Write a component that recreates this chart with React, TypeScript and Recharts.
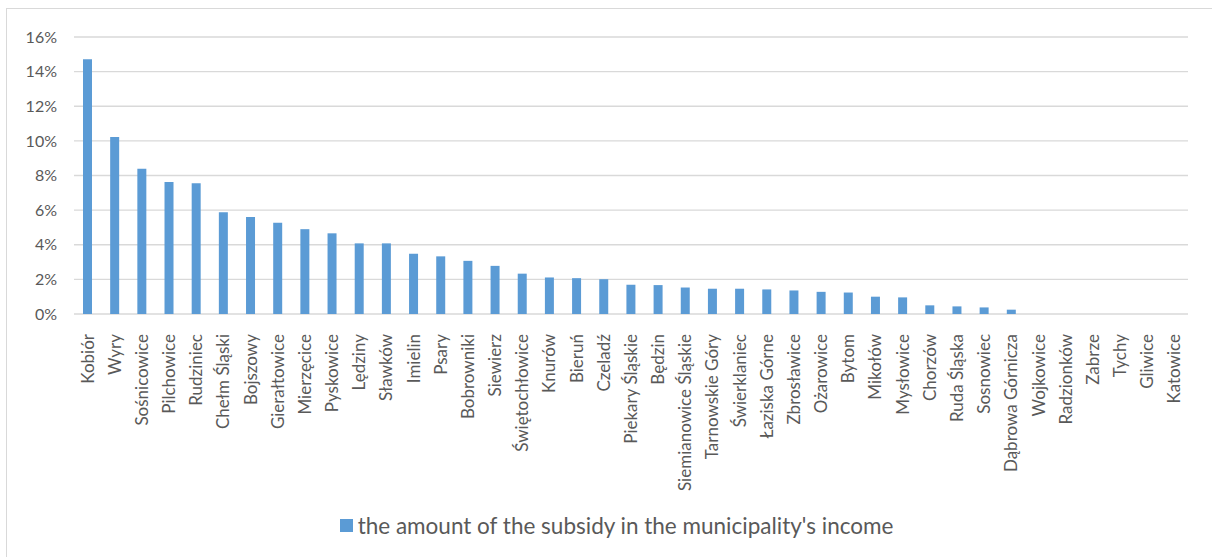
import { BarChart, Bar, XAxis, YAxis, CartesianGrid, Legend } from 'recharts';

// municipalities, sorted by share of the subsidy in their income
const municipalities = [
  'Kobiór', 'Wyry', 'Sośnicowice', 'Pilchowice', 'Rudziniec', 'Chełm Śląski', 'Bojszowy',
  'Gierałtowice', 'Mierzęcice', 'Pyskowice', 'Lędziny', 'Sławków', 'Imielin', 'Psary',
  'Bobrowniki', 'Siewierz', 'Świętochłowice', 'Knurów', 'Bieruń', 'Czeladź', 'Piekary Śląskie',
  'Będzin', 'Siemianowice Śląskie', 'Tarnowskie Góry', 'Świerklaniec', 'Łaziska Górne',
  'Zbrosławice', 'Ożarowice', 'Bytom', 'Mikołów', 'Mysłowice', 'Chorzów', 'Ruda Śląska',
  'Sosnowiec', 'Dąbrowa Górnicza', 'Wojkowice', 'Radzionków', 'Zabrze', 'Tychy', 'Gliwice',
  'Katowice',
];

// percent
const subsidyShare = [
  14.72, 10.23, 8.39, 7.62, 7.55, 5.88, 5.6,
  5.27, 4.9, 4.66, 4.08, 4.08, 3.48, 3.33,
  3.07, 2.78, 2.33, 2.11, 2.07, 2.01, 1.69,
  1.67, 1.53, 1.46, 1.46, 1.42,
  1.36, 1.28, 1.24, 1.0, 0.96, 0.5, 0.44,
  0.38, 0.25, 0, 0, 0, 0, 0,
  0,
];

const yTicks = [0, 2, 4, 6, 8, 10, 12, 14, 16];

const SERIES_NAME = "the amount of the subsidy in the municipality's income";
const BLUE = '#5b9bd5';
const TEXT = '#595959';
const FONT = 'Lato, "Open Sans", sans-serif';

const data = municipalities.map((name, i) => ({ name, value: subsidyShare[i] }));

function CategoryTick({ x, y, payload }: any) {
  return (
    <text
      transform={`translate(${x},${y + 12}) rotate(-90)`}
      textAnchor="end"
      dy="0.35em"
      fontSize={17}
      fontFamily={FONT}
      fill={TEXT}
    >
      {payload.value}
    </text>
  );
}

function LegendBox() {
  return (
    <div style={{ display: 'flex', alignItems: 'center', justifyContent: 'center', height: 30, paddingLeft: 45, fontFamily: FONT, fontSize: 22.5, color: TEXT }}>
      <span style={{ display: 'inline-block', width: 13, height: 13, background: BLUE, marginRight: 5 }} />
      {SERIES_NAME}
    </div>
  );
}

export default function App() {
  return (
    <div style={{ position: 'fixed', left: 0, top: 0, width: 1212, height: 557, background: '#fff', overflow: 'hidden' }}>
      <div style={{ position: 'absolute', left: 6, top: 8, width: 1230, height: 580, borderLeft: '1px solid #d9d9d9', borderTop: '1px solid #d9d9d9' }} />
      <div style={{ position: 'absolute', left: 0, top: 0 }}>
        <BarChart width={1212} height={557} data={data} margin={{ top: 37, right: 24, left: 0, bottom: 17 }}>
          <CartesianGrid vertical={false} stroke="#d9d9d9" strokeWidth={1.3} />
          <XAxis
            dataKey="name"
            interval={0}
            height={196}
            axisLine={false}
            tickLine={false}
            tick={<CategoryTick />}
          />
          <YAxis
            domain={[0, 16]}
            ticks={yTicks}
            width={74}
            axisLine={false}
            tickLine={false}
            tickSize={0}
            tickMargin={17}
            tickFormatter={(v: number) => `${v}%`}
            tick={{ fontSize: 16, fontFamily: FONT, fill: TEXT }}
          />
          <Legend verticalAlign="bottom" height={30} content={<LegendBox />} />
          <Bar dataKey="value" name={SERIES_NAME} fill={BLUE} barSize={9} isAnimationActive={false} />
        </BarChart>
      </div>
    </div>
  );
}
